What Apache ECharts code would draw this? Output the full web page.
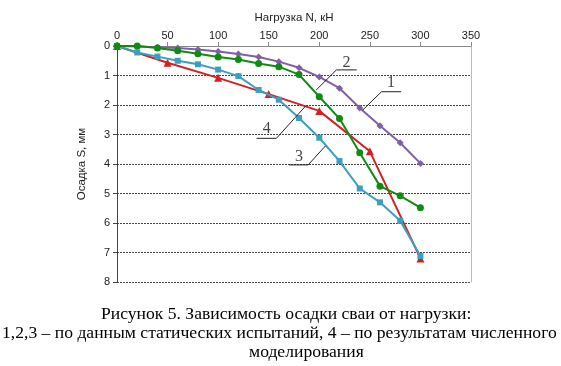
<!DOCTYPE html>
<html><head><meta charset="utf-8">
<script src="https://cdn.jsdelivr.net/npm/echarts@6/dist/echarts.min.js"></script>
<style>html,body{margin:0;padding:0;background:#fff}#c{width:561px;height:366px}</style>
</head><body><div id="c"></div>
<script>
// Data (load N, kN ; settlement S, mm)
var loads = [0,20,40,60,80,100,120,140,160,180,200,220,240,260,280,300];
var s1 = [0,0.02,0.04,0.07,0.12,0.19,0.27,0.37,0.53,0.74,1.05,1.43,2.1,2.7,3.28,3.98];
var s2 = [0,0,0.07,0.16,0.26,0.37,0.46,0.59,0.70,0.97,1.72,2.46,3.62,4.75,5.08,5.48];
var s3 = [0,0.22,0.36,0.5,0.62,0.8,1.02,1.49,1.82,2.44,3.11,3.9,4.83,5.3,5.92,7.12];
var loads4 = [0,50,100,150,200,250,300];
var s4 = [0,0.57,1.08,1.63,2.2,3.57,7.2];
var xTicks = [0,50,100,150,200,250,300,350];
var yTicks = [0,1,2,3,4,5,6,7,8];
// annotation callouts (data coords): label, text pos, underline start/end, leader end
var annLabels = ['1','2','3','4'];
var annText = [[271,1.26],[227,0.57],[180,3.75],[148,2.82]];
var annLines = [
  [[281,1.55],[261.5,1.55],[243,2.17]],
  [[237,0.81],[217,0.81],[197,1.49]],
  [[170,4.03],[189,4.03],[206,3.39]],
  [[138,3.13],[157.6,3.13],[186.6,2.03]]
];
var caption = ['Рисунок 5. Зависимость осадки сваи от нагрузки:',
  '1,2,3 – по данным статических испытаний, 4 – по результатам численного',
  'моделирования'];

function zip(a,b){return a.map(function(v,i){return [v,b[i]];});}
var chart = echarts.init(document.getElementById('c'));
var series = [
  {type:'line',data:zip(loads,s1),symbol:'diamond',symbolSize:7,lineStyle:{width:2,color:'#7F5FA8'},itemStyle:{color:'#7F5FA8'},z:3},
  {type:'line',data:zip(loads,s2),symbol:'circle',symbolSize:7,lineStyle:{width:2,color:'#118A11'},itemStyle:{color:'#118A11'},z:4},
  {type:'line',data:zip(loads,s3),symbol:'rect',symbolSize:6,lineStyle:{width:2,color:'#3A9FC0'},itemStyle:{color:'#3A9FC0'},z:3},
  {type:'line',data:zip(loads4,s4),symbol:'triangle',symbolSize:8,lineStyle:{width:2,color:'#D42020'},itemStyle:{color:'#D42020'},z:2}
];
annLines.forEach(function(l){
  series.push({type:'line',data:l,symbol:'none',silent:true,lineStyle:{width:1,color:'#222'},z:5});
});
series.push({type:'scatter',data:annText.map(function(p,i){return {value:p,name:annLabels[i]};}),symbolSize:0,silent:true,
  label:{show:true,position:'inside',formatter:'{b}',fontFamily:'Liberation Serif',fontSize:16,color:'#111'},z:6});

var capFont = '17.6px "Liberation Serif"';
chart.setOption({
  animation:false,
  grid:{left:117,top:46,width:354,height:236},
  xAxis:{type:'value',position:'top',min:0,max:350,interval:50,
    name:'Нагрузка N, кН',nameLocation:'middle',nameGap:22,
    nameTextStyle:{fontFamily:'Liberation Sans',fontSize:11.5,color:'#222'},
    axisLine:{show:true,lineStyle:{color:'#888',width:1}},
    axisTick:{show:true,length:4,lineStyle:{color:'#888'}},
    axisLabel:{fontFamily:'Liberation Sans',fontSize:11,color:'#222',margin:5},
    splitLine:{show:false}},
  yAxis:[{type:'value',inverse:true,min:0,max:8,interval:1,
    name:'Осадка S, мм',nameLocation:'middle',nameGap:29,nameRotate:90,
    nameTextStyle:{fontFamily:'Liberation Sans',fontSize:11.5,color:'#222'},
    axisLine:{show:true,lineStyle:{color:'#444',width:1}},
    axisTick:{show:true,length:4,lineStyle:{color:'#444'}},
    axisLabel:{fontFamily:'Liberation Sans',fontSize:11,color:'#222',margin:7},
    splitLine:{show:true,lineStyle:{color:'#444',type:[2,1],width:1}}},
   {type:'value',inverse:true,min:0,max:8,interval:1,position:'right',
    axisLine:{show:true,lineStyle:{color:'#bbb',width:1}},axisTick:{show:false},axisLabel:{show:false},splitLine:{show:false}}],
  graphic:[
    {type:'text',left:101,top:305,style:{text:caption[0],font:capFont,fill:'#000'}},
    {type:'text',left:2,top:324,style:{text:caption[1],font:capFont,fill:'#000'}},
    {type:'text',left:249,top:343,style:{text:caption[2],font:capFont,fill:'#000'}}
  ],
  series:series
});
</script></body></html>
